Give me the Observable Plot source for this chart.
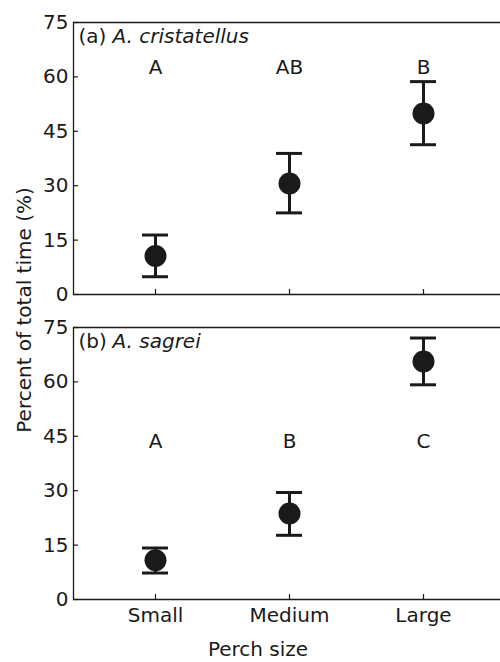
<!DOCTYPE html>
<html>
<head>
<meta charset="utf-8">
<script src="https://cdn.jsdelivr.net/npm/d3@7"></script>
<script src="https://cdn.jsdelivr.net/npm/@observablehq/plot@0.6"></script>
<style>
  html, body { margin: 0; padding: 0; background: white; overflow: hidden; }
  #chart svg { display: block; }
</style>
</head>
<body>
<div id="chart"></div>
<script>
// ---- data ----
const categories = ["Small", "Medium", "Large"];
const panels = ["a", "b"];
const panelTags = ["(a)", "(b)"];
const species = ["A. cristatellus", "A. sagrei"];
const meanA = [10.6, 30.6, 49.9];
const lowA = [4.9, 22.5, 41.3];
const highA = [16.4, 38.9, 58.7];
const meanB = [10.8, 23.7, 65.6];
const lowB = [7.3, 17.7, 59.2];
const highB = [14.2, 29.5, 72.1];
const lettersA = ["A", "AB", "B"];
const lettersB = ["A", "B", "C"];
const letterLevel = [62.5, 43.5];
const yTicks = [0, 15, 30, 45, 60, 75];
const yLabel = "Percent of total time (%)";
const xLabel = "Perch size";

// ---- table ----
const rows = [];
categories.forEach((c, i) => {
  rows.push({panel: "a", size: c, mean: meanA[i], low: lowA[i], high: highA[i], letter: lettersA[i], ly: letterLevel[0]});
  rows.push({panel: "b", size: c, mean: meanB[i], low: lowB[i], high: highB[i], letter: lettersB[i], ly: letterLevel[1]});
});
const panelRows = panels.map((p, i) => ({panel: p, tag: panelTags[i], species: species[i]}));

const ink = "#1a1a1a";
const font = "'DejaVu Sans', sans-serif";
const fs = 20;

const plot = Plot.plot({
  width: 500,
  height: 662,
  marginLeft: 73,
  marginRight: 0,
  marginTop: 22,
  marginBottom: 62,
  style: {fontFamily: font, fontSize: fs + "px", color: ink, background: "white"},
  x: {type: "band", domain: categories, range: [141, 436], paddingInner: 0.807, paddingOuter: 0},
  y: {domain: [0, 75]},
  fy: {domain: panels, paddingInner: 0.108, paddingOuter: 0, axis: null, label: null},
  marks: [
    Plot.frame({stroke: ink, strokeWidth: 1.3}),
    Plot.axisY({ticks: yTicks, tickSize: -5, tickPadding: 10, label: null, stroke: ink, strokeWidth: 1.2, fontSize: fs}),
    Plot.axisX({tickSize: -5, tickFormat: () => "", facetAnchor: null, label: null, stroke: ink, strokeWidth: 1.2}),
    Plot.axisX({tickSize: 0, tickPadding: 8, label: null, fontSize: fs}),
    Plot.ruleX(rows, {x: "size", y1: "low", y2: "high", fy: "panel", stroke: ink, strokeWidth: 3}),
    Plot.tickY(rows, {x: "size", y: "low", fy: "panel", stroke: ink, strokeWidth: 3}),
    Plot.tickY(rows, {x: "size", y: "high", fy: "panel", stroke: ink, strokeWidth: 3}),
    Plot.dot(rows, {x: "size", y: "mean", fy: "panel", r: 11, fill: ink, stroke: "none"}),
    Plot.text(rows, {x: "size", y: "ly", fy: "panel", text: "letter", fill: ink, fontSize: fs}),
    Plot.text(panelRows, {fy: "panel", text: "tag", frameAnchor: "top-left", dx: 5, dy: 6, lineAnchor: "top", fill: ink, fontSize: fs}),
    Plot.text(panelRows, {fy: "panel", text: "species", frameAnchor: "top-left", dx: 39, dy: 6, lineAnchor: "top", fill: ink, fontSize: fs, fontStyle: "italic"})
  ]
});

const svg = d3.select(plot);
// the open-ended panel box: draw top, skip the right side, then bottom and left
svg.selectAll("g[aria-label='frame'] rect, rect[aria-label='frame']").each(function() {
  const r = d3.select(this);
  const w = +r.attr("width"), h = +r.attr("height");
  if (w && h) r.attr("stroke-dasharray", `${w},${h},${w + h + 2}`);
});
svg.append("text")
  .attr("transform", "translate(24,310) rotate(-90)")
  .attr("text-anchor", "middle")
  .attr("dominant-baseline", "central")
  .attr("font-family", font)
  .attr("font-size", fs)
  .attr("fill", ink)
  .text(yLabel);
svg.append("text")
  .attr("x", 258)
  .attr("y", 656)
  .attr("text-anchor", "middle")
  .attr("font-family", font)
  .attr("font-size", fs)
  .attr("fill", ink)
  .text(xLabel);

document.getElementById("chart").appendChild(plot);
</script>
</body>
</html>
